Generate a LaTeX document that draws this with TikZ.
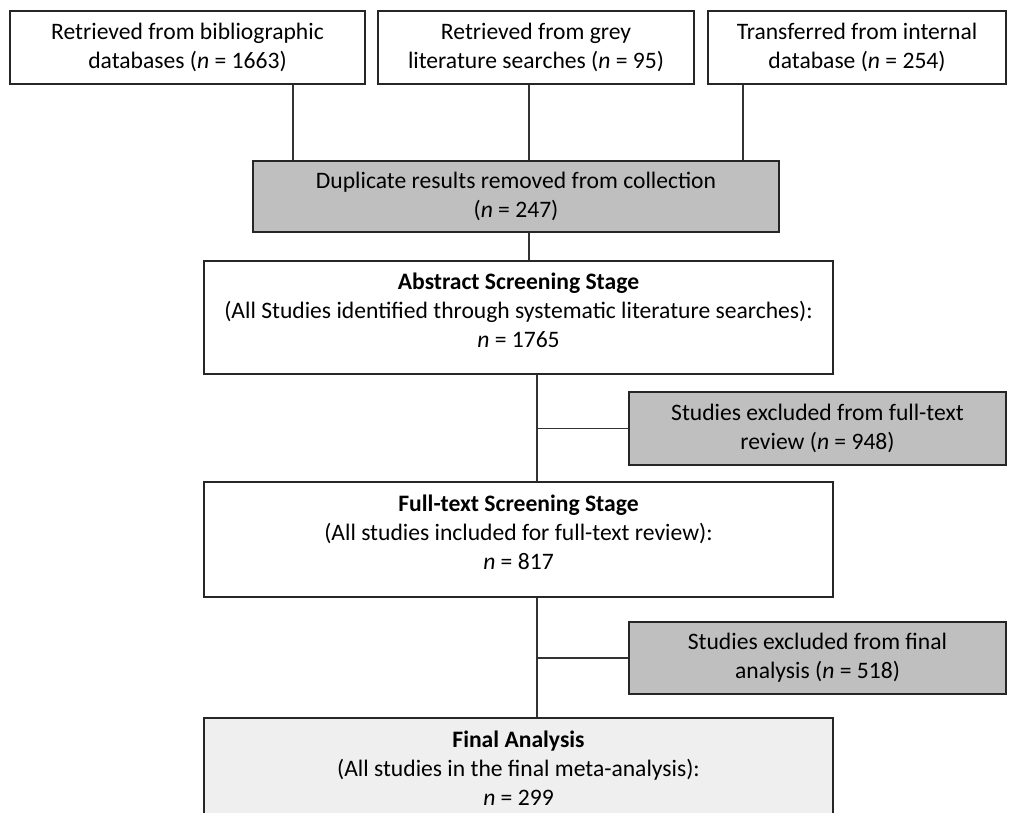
\documentclass[tikz,border=0pt]{standalone}
\usepackage{fontspec}
\setmainfont{Carlito}
\definecolor{boxgrey}{HTML}{BFBFBF}
\definecolor{finalgrey}{HTML}{EFEFEF}
\tikzset{
  stagebox/.style={draw=black!85, line width=0.8pt, align=center, inner sep=2pt},
  greybox/.style={stagebox, fill=boxgrey},
  link/.style={draw=black!80, line width=0.7pt}
}
\begin{document}
\begin{tikzpicture}[x=0.5pt,y=-0.5pt,font=\fontsize{11.8}{14.5}\selectfont]
  \useasboundingbox (0,0) rectangle (1009,813);
  \clip (0,0) rectangle (1009,813);
  % sources
  \node[stagebox, minimum width=177.5pt, minimum height=36.5pt] (src1) at (187.5,47.5) {Retrieved from bibliographic\\databases (\textit{n} = 1663)};
  \node[stagebox, minimum width=158pt, minimum height=36.5pt] (src2) at (536,47.5) {Retrieved from grey\\literature searches (\textit{n} = 95)};
  \node[stagebox, minimum width=149pt, minimum height=36.5pt] (src3) at (857,47.5) {Transferred from internal\\database (\textit{n} = 254)};
  \node[greybox, minimum width=263pt, minimum height=35.5pt] (dup) at (516,196.5) {Duplicate results removed from collection\\(\textit{n} = 247)};
  % screening stages
  \node[stagebox, text depth=7pt, minimum width=314.5pt, minimum height=56.5pt] (abs) at (518.5,317.5) {\textbf{Abstract Screening Stage}\\(All Studies identified through systematic literature searches):\\\textit{n} = 1765};
  \node[greybox, minimum width=188.5pt, minimum height=36.5pt] (exc1) at (817.5,428.5) {Studies excluded from full-text\\review (\textit{n} = 948)};
  \node[stagebox, text depth=7pt, minimum width=314.5pt, minimum height=57.5pt] (full) at (518.5,539.5) {\textbf{Full-text Screening Stage}\\(All studies included for full-text review):\\\textit{n} = 817};
  \node[greybox, minimum width=188.5pt, minimum height=36pt] (exc2) at (817.5,658) {Studies excluded from final\\analysis (\textit{n} = 518)};
  \node[stagebox, fill=finalgrey, minimum width=314.5pt, minimum height=50pt] (final) at (518.5,768) {\textbf{Final Analysis}\\(All studies in the final meta-analysis):\\\textit{n} = 299};
  % connectors
  \coordinate (t1) at (293,0);
  \coordinate (t2) at (529,0);
  \coordinate (t3) at (743,0);
  \coordinate (trunk) at (537,0);
  \draw[link] (src1.south -| t1) -- (dup.north -| t1);
  \draw[link] (src2.south -| t2) -- (dup.north -| t2);
  \draw[link] (src3.south -| t3) -- (dup.north -| t3);
  \draw[link] (dup.south -| t2) -- (abs.north -| t2);
  \draw[link] (abs.south -| trunk) -- (full.north -| trunk);
  \draw[link] (exc1.west -| trunk) -- (exc1.west);
  \draw[link] (full.south -| trunk) -- (final.north -| trunk);
  \draw[link] (exc2.west -| trunk) -- (exc2.west);
\end{tikzpicture}
\end{document}
